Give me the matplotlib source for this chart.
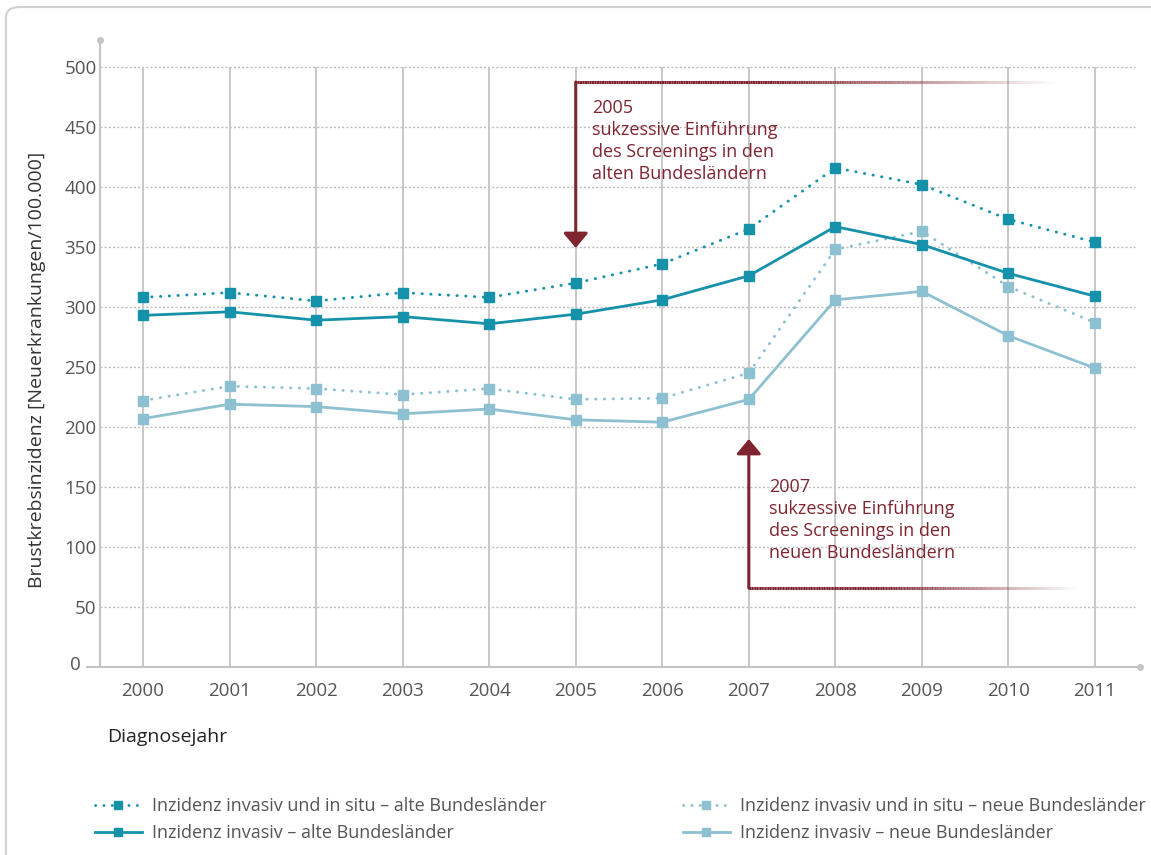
import matplotlib
matplotlib.use("Agg")
import matplotlib.pyplot as plt
import numpy as np
from matplotlib.patches import FancyBboxPatch
from matplotlib.collections import LineCollection
from matplotlib.lines import Line2D
from matplotlib.legend_handler import HandlerLine2D
import matplotlib.transforms as mtransforms

plt.rcParams['font.family'] = ['Open Sans', 'DejaVu Sans']

years = [2000, 2001, 2002, 2003, 2004, 2005, 2006, 2007, 2008, 2009, 2010, 2011]
alt_insitu = [308, 312, 305, 312, 308, 320, 336, 365, 416, 402, 373, 354]
alt_invasiv = [293, 296, 289, 292, 286, 294, 306, 326, 367, 352, 328, 309]
neu_insitu = [222, 234, 232, 227, 232, 223, 224, 245, 348, 363, 317, 287]
neu_invasiv = [207, 219, 217, 211, 215, 206, 204, 223, 306, 313, 276, 249]

labels = ["Inzidenz invasiv und in situ – alte Bundesländer",
          "Inzidenz invasiv – alte Bundesländer",
          "Inzidenz invasiv und in situ – neue Bundesländer",
          "Inzidenz invasiv – neue Bundesländer"]
yticks = [0, 50, 100, 150, 200, 250, 300, 350, 400, 450, 500]

dark = '#1591a9'
light = '#8dc0d0'
red = '#7e2530'

W, H = 1151, 855
fig = plt.figure(figsize=(W / 100, H / 100), dpi=100)

# frame
frame = FancyBboxPatch((6 / W, -30 / H), (W + 40) / W, (H + 30 - 7) / H,
                       boxstyle="round,pad=0,rounding_size=0.012",
                       transform=fig.transFigure, fc='white', ec='#d0d0d0', lw=1.5, zorder=-10)
fig.patches.append(frame)

# axes geometry in pixels
axL, axR, axT, axB = 87, 1140, 40, 667
ax = fig.add_axes([axL / W, 1 - axB / H, (axR - axL) / W, (axB - axT) / H])
ax.set_facecolor('none')
ax.set_zorder(1)
step = (1095 - 143) / 11.0
x0 = 2000 - (143 - axL) / step
x1 = 2011 + (axR - 1095) / step
ytop = 500 + (67 - axT) / 1.2
ax.set_xlim(x0, x1)
ax.set_ylim(0, ytop)
for s in ax.spines.values():
    s.set_visible(False)

yaxis_x = 2000 - (143 - 100) / step
# horizontal dotted grid
for yv in yticks[1:]:
    ax.plot([yaxis_x, 2000 + (1135 - 143) / step], [yv, yv], color='#bdbdbd',
            lw=1.0, linestyle=(0, (1.5, 1.5)), zorder=1)
# vertical grid
ax.vlines(years, 0, 500, color='#c4c4c4', lw=1.3, zorder=1)
# axis lines
ax.plot([yaxis_x, yaxis_x], [0, ytop], color='#c4c4c4', lw=1.5, zorder=2, clip_on=False)
ax.plot([yaxis_x], [ytop], 'o', color='#c4c4c4', ms=4, clip_on=False)
ax.plot([x0, x1], [0, 0], color='#c4c4c4', lw=1.5, zorder=2, clip_on=False)
ax.plot([x1], [0], 'o', color='#c4c4c4', ms=4, clip_on=False)

ax.set_xticks(years)
ax.set_xticklabels([str(y) for y in years])
ax.set_yticks(yticks)
ax.set_yticklabels([str(v) if v != 0 else '' for v in yticks])
ax.tick_params(axis='both', length=0, labelsize=13.5, colors='#555555')
ax.tick_params(axis='x', pad=11)
ax.tick_params(axis='y', pad=-7)
# zero label sits left of the extended x-axis line
zero_tr = mtransforms.offset_copy(ax.get_yaxis_transform(), fig=fig, x=-6, y=2, units='dots')
ax.text(0, yticks[0], str(yticks[0]), transform=zero_tr, ha='right', va='center',
        fontsize=13.5, color='#555555')

dotted = (0, (0.1, 2.9))
ms = 6.5
ax.plot(years, alt_insitu, color=dark, lw=2.1, linestyle=dotted, dash_capstyle='round',
        marker='s', ms=ms, zorder=5)
ax.plot(years, alt_invasiv, color=dark, lw=2.0, marker='s', ms=ms, zorder=5)
ax.plot(years, neu_insitu, color=light, lw=2.1, linestyle=dotted, dash_capstyle='round',
        marker='s', ms=ms, zorder=4)
ax.plot(years, neu_invasiv, color=light, lw=2.0, marker='s', ms=ms, zorder=4)

ax.set_ylabel("Brustkrebsinzidenz [Neuerkrankungen/100.000]", fontsize=14, color='#333333')
ax.yaxis.set_label_coords((46 - axL) / (axR - axL), (axB - 370) / (axB - axT))

fig.text(107 / W, 1 - 737 / H, "Diagnosejahr", fontsize=14, color='#222222', va='center')


def px2x(p):
    return 2000 + (p - 143) / step


def py2y(p):
    return (667 - p) / 1.2


def fade_line(xa, xb, y, n=200, solid_frac=0.4):
    xs = np.linspace(xa, xb, n + 1)
    segs = [[(xs[i], y), (xs[i + 1], y)] for i in range(n)]
    cols = []
    for i in range(n):
        t = i / n
        a = 1.0 if t < solid_frac else max(0.0, 1 - (t - solid_frac) / (1 - solid_frac))
        cols.append((0x7e / 255, 0x25 / 255, 0x30 / 255, a))
    lc = LineCollection(segs, colors=cols, linewidths=2.2, zorder=6, capstyle='butt')
    ax.add_collection(lc)


arrow_style = '-|>,head_length=0.9,head_width=0.75'
# 2005 annotation
top1 = py2y(82)
fade_line(2005 - 0.012, px2x(1055), top1)
ax.annotate('', xy=(2005, py2y(248)), xytext=(2005, top1),
            arrowprops=dict(arrowstyle=arrow_style, color=red, lw=2.2, shrinkA=0, shrinkB=0,
                            mutation_scale=10), zorder=6)
ax.text(px2x(592), py2y(99), "2005\nsukzessive Einführung\ndes Screenings in den\nalten Bundesländern",
        color=red, fontsize=13, va='top', ha='left', linespacing=1.28, zorder=6)

# 2007 annotation
bot2 = py2y(588)
fade_line(2007 - 0.012, px2x(1075), bot2)
ax.annotate('', xy=(2007, py2y(439)), xytext=(2007, bot2),
            arrowprops=dict(arrowstyle=arrow_style, color=red, lw=2.2, shrinkA=0, shrinkB=0,
                            mutation_scale=10), zorder=6)
ax.text(px2x(769), py2y(478), "2007\nsukzessive Einführung\ndes Screenings in den\nneuen Bundesländern",
        color=red, fontsize=13, va='top', ha='left', linespacing=1.28, zorder=6)


# legends
class MidMarker(HandlerLine2D):
    def create_artists(self, legend, orig_handle, xdescent, ydescent, width, height, fontsize, trans):
        y = height / 2 - ydescent
        ls = getattr(orig_handle, 'my_ls', '-')
        line = Line2D([-xdescent, -xdescent + width], [y, y], color=orig_handle.get_color(),
                      lw=orig_handle.get_linewidth(), linestyle=ls,
                      dash_capstyle='round', transform=trans)
        mk = Line2D([-xdescent + width / 2], [y], color=orig_handle.get_color(), marker='s',
                    ms=6, linestyle='none', transform=trans)
        return [line, mk]


def mk_handle(color, ls):
    h = Line2D([], [], color=color, lw=2.0)
    h.my_ls = ls
    return h


hs = [mk_handle(dark, dotted), mk_handle(dark, '-'), mk_handle(light, dotted), mk_handle(light, '-')]

leg_kw = dict(frameon=False, fontsize=13, handlelength=2.6, handletextpad=0.55,
              labelspacing=0.5, borderpad=0, borderaxespad=0,
              handler_map={Line2D: MidMarker()}, labelcolor='#555555')
fig.legend(hs[:2], labels[:2], loc='upper left', bbox_to_anchor=(95 / W, 1 - 797 / H), **leg_kw)
fig.legend(hs[2:], labels[2:], loc='upper left', bbox_to_anchor=(683 / W, 1 - 797 / H), **leg_kw)

fig.savefig('out.png', dpi=100)
